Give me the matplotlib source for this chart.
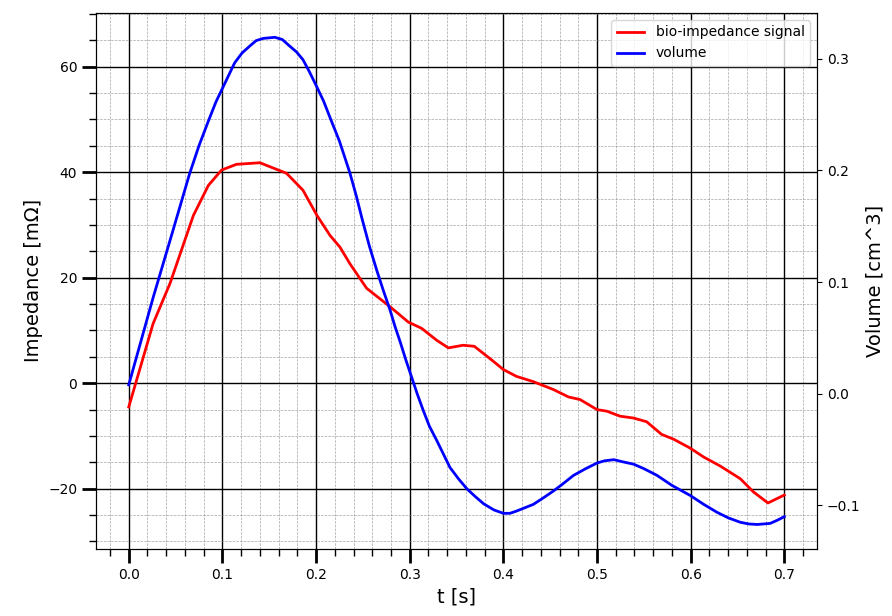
import matplotlib
matplotlib.use('Agg')
import matplotlib.pyplot as plt
from matplotlib.ticker import AutoMinorLocator

# bio-impedance signal (left axis)
t_imp = [0.0, 0.026, 0.044, 0.069, 0.085, 0.099, 0.115, 0.14, 0.1685, 0.186,
         0.201, 0.215, 0.2255, 0.236, 0.254, 0.279, 0.2985, 0.3128, 0.3288, 0.3413,
         0.357, 0.369, 0.3876, 0.40, 0.414, 0.432, 0.4535, 0.4695, 0.482, 0.50,
         0.5105, 0.5247, 0.539, 0.553, 0.569, 0.5817, 0.5995, 0.614, 0.6316, 0.653,
         0.667, 0.6826, 0.70]
impedance = [-4.5, 11.3, 18.9, 31.8, 37.5, 40.4, 41.5, 41.8, 39.8, 36.6,
             31.8, 28.0, 25.8, 22.7, 18.0, 14.5, 11.6, 10.4, 8.15, 6.7,
             7.2, 7.0, 4.4, 2.6, 1.3, 0.3, -1.2, -2.6, -3.1, -5.0,
             -5.3, -6.25, -6.6, -7.3, -9.7, -10.6, -12.3, -14.0, -15.7, -18.1,
             -20.6, -22.7, -21.2]

# volume (right axis)
t_vol = [0.0, 0.026, 0.044, 0.065, 0.075, 0.085, 0.093, 0.101, 0.113, 0.121,
         0.129, 0.136, 0.1435, 0.156, 0.164, 0.172, 0.179, 0.186, 0.193, 0.2006,
         0.208, 0.215, 0.225, 0.236, 0.243, 0.249, 0.257, 0.265, 0.272, 0.279,
         0.284, 0.290, 0.296, 0.302, 0.308, 0.3145, 0.321, 0.329, 0.336, 0.343,
         0.352, 0.361, 0.370, 0.379, 0.390, 0.40, 0.407, 0.414, 0.420, 0.432,
         0.443, 0.4535, 0.463, 0.475, 0.488, 0.50, 0.508, 0.518, 0.528, 0.539,
         0.55, 0.564, 0.58, 0.5995, 0.614, 0.628, 0.64, 0.653, 0.662, 0.671,
         0.685, 0.693, 0.70]
volume = [0.008, 0.086, 0.137, 0.197, 0.222, 0.244, 0.261, 0.275, 0.296, 0.305,
          0.311, 0.316, 0.318, 0.319, 0.317, 0.311, 0.306, 0.299, 0.288, 0.275,
          0.262, 0.247, 0.226, 0.198, 0.177, 0.157, 0.132, 0.110, 0.092, 0.075,
          0.061, 0.046, 0.030, 0.015, 0.0, -0.015, -0.029, -0.042, -0.054, -0.066,
          -0.076, -0.085, -0.092, -0.0985, -0.104, -0.107, -0.107, -0.105, -0.103, -0.099,
          -0.093, -0.087, -0.081, -0.073, -0.067, -0.062, -0.060, -0.059, -0.061, -0.063,
          -0.067, -0.073, -0.082, -0.091, -0.099, -0.106, -0.111, -0.115, -0.1165, -0.117,
          -0.116, -0.113, -0.110]

fig, ax = plt.subplots(figsize=(8.92, 6.16), dpi=100)
fig.subplots_adjust(left=0.1076, right=0.916, top=0.979, bottom=0.109)

l1, = ax.plot(t_imp, impedance, color='red', linewidth=2, label='bio-impedance signal')
ax.set_ylim(-31.4, 70.2)
ax.set_xlabel('t [s]', fontsize=14)
ax.set_ylabel('Impedance [mΩ]', fontsize=14)

ax.xaxis.set_minor_locator(AutoMinorLocator(5))
ax.yaxis.set_minor_locator(AutoMinorLocator(4))
ax.tick_params(which='major', length=10, width=2)
ax.tick_params(which='minor', length=5, width=1)
ax.grid(which='major', color='black', linewidth=1.0)
ax.grid(which='minor', color='gray', linestyle='--', linewidth=0.5, alpha=0.7)

ax2 = ax.twinx()
l2, = ax2.plot(t_vol, volume, color='blue', linewidth=2, label='volume')
ax2.set_ylabel('Volume [cm^3]', fontsize=14)

ax2.legend(handles=[l1, l2], loc='upper right', fontsize=10)

fig.savefig('out.png', dpi=100)
